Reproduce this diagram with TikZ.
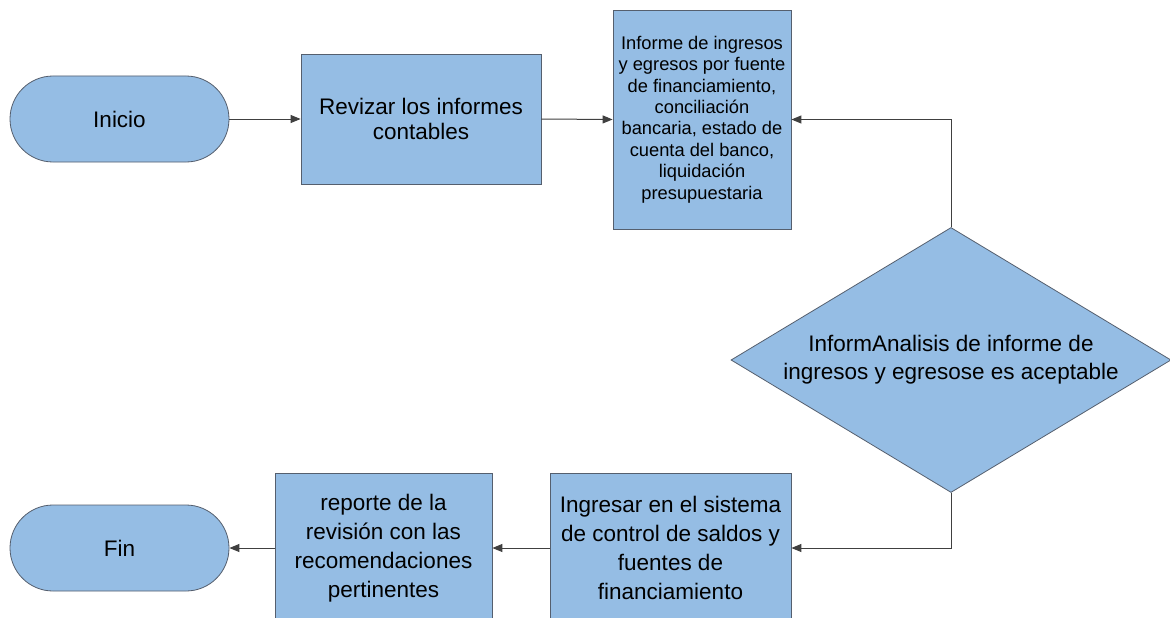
\documentclass[tikz,border=0pt]{standalone}
\usepackage{fontspec}
\setmainfont{Liberation Sans}
\usetikzlibrary{shapes.geometric,arrows.meta}
\definecolor{boxfill}{RGB}{149,189,228}
\definecolor{boxline}{RGB}{85,95,110}
\definecolor{arrowcol}{RGB}{64,64,64}
\begin{document}
\begin{tikzpicture}[x=1pt,y=-1pt,
  base/.style={draw=boxline, fill=boxfill, line width=0.8pt, align=center, inner sep=0pt, text=black},
  term/.style={base, rounded corners=43pt, minimum width=219pt, minimum height=86pt, font=\fontsize{22.5}{27}\selectfont},
  proc/.style={base, rectangle},
  dec/.style={base, diamond, aspect=1.66, minimum width=440pt, minimum height=265pt, font=\fontsize{22.5}{28}\selectfont},
  arr/.style={draw=arrowcol, line width=1pt, -{Triangle[length=10pt,width=8pt]}}
]
\useasboundingbox (0,0) rectangle (1170,618);
\clip (0,0) rectangle (1170,618);
\fill[white] (0,0) rectangle (1170,618);

\node[term] (inicio) at (119.5,119) {Inicio};
\node[proc, minimum width=240pt, minimum height=130pt, font=\fontsize{22.5}{25}\selectfont] (rev) at (421,119) {Revizar los informes\\contables};
\node[proc, minimum width=178pt, minimum height=219pt, font=\fontsize{18.3}{21.4}\selectfont] (inf) at (702,119.5) {Informe de ingresos\\y egresos por fuente\\de financiamiento,\\conciliación\\bancaria, estado de\\cuenta del banco,\\liquidación\\presupuestaria};
\node[dec] (dec) at (951,360) {InformAnalisis de informe de\\ingresos y egresose es aceptable};
\node[proc, minimum width=241pt, minimum height=150pt, font=\fontsize{22.5}{29}\selectfont] (ing) at (670.5,548) {Ingresar en el sistema\\de control de saldos y\\fuentes de\\financiamiento};
\node[proc, minimum width=217pt, minimum height=150pt, font=\fontsize{22.5}{29}\selectfont] (rep) at (383.5,548) {reporte de la\\revisión con las\\recomendaciones\\pertinentes};
\node[term] (fin) at (119.5,548) {Fin};

\draw[arr] (inicio.east) -- (rev.west);
\draw[arr] (rev.east) -- (inf.west);
\draw[arr] (dec.north) |- (inf.east);
\draw[arr] (dec.south) |- (ing.east);
\draw[arr] (ing.west) -- (rep.east);
\draw[arr] (rep.west) -- (fin.east);
\end{tikzpicture}
\end{document}
